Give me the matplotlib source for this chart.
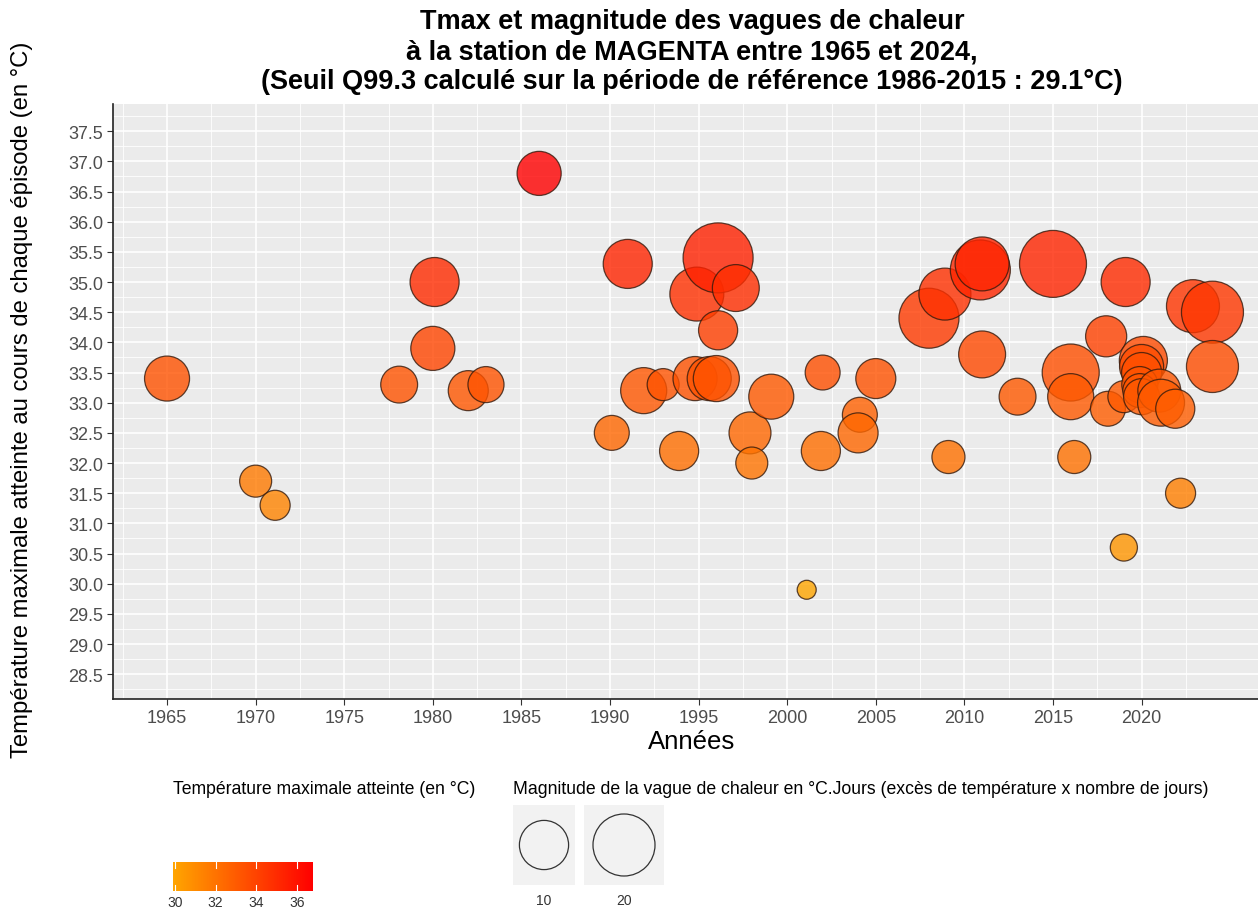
import matplotlib
matplotlib.use("Agg")
import matplotlib.pyplot as plt
import numpy as np
from matplotlib.colors import LinearSegmentedColormap, Normalize
from matplotlib.colorbar import ColorbarBase

plt.rcParams['font.family'] = ['Liberation Sans', 'DejaVu Sans']

# episodes: decimal year, Tmax reached (°C), magnitude (°C.jours)
years = [1965.0, 1970.0, 1971.1, 1978.1, 1980.1, 1980.0, 1982.0, 1983.0, 1986.0,
         1990.1, 1991.0, 1991.9, 1993.0, 1993.9, 1994.9, 1994.8, 1995.6, 1996.0,
         1996.1, 1997.1, 1996.1, 1997.9, 1998.0, 1999.1, 2001.1, 2002.0, 2001.9,
         2004.1, 2004.0, 2005.0, 2008.0, 2008.9, 2010.9, 2011.0, 2011.0, 2009.1,
         2013.0, 2015.0, 2016.0, 2016.0, 2016.2, 2018.0, 2018.1, 2019.1, 2019.0,
         2019.0, 2020.1, 2020.0, 2020.0, 2019.9, 2019.9, 2020.0, 2021.0, 2021.1,
         2021.9, 2022.2, 2022.9, 2024.0, 2024.0]
tmax = [33.4, 31.7, 31.3, 33.3, 35.0, 33.9, 33.2, 33.3, 36.8,
        32.5, 35.3, 33.2, 33.3, 32.2, 34.8, 33.4, 33.4, 33.4,
        35.4, 34.9, 34.2, 32.5, 32.0, 33.1, 29.9, 33.5, 32.2,
        32.8, 32.5, 33.4, 34.4, 34.8, 35.2, 35.3, 33.8, 32.1,
        33.1, 35.3, 33.5, 33.1, 32.1, 34.1, 32.9, 35.0, 33.1,
        30.6, 33.7, 33.6, 33.5, 33.3, 33.2, 33.1, 33.2, 33.0,
        32.9, 31.5, 34.6, 34.5, 33.6]
magnitude = [7.5, 2.1, 1.6, 3.7, 9.9, 7.0, 5.0, 3.4, 7.0,
             3.0, 9.9, 8.1, 2.1, 4.6, 13.3, 7.0, 7.0, 8.1,
             28.0, 8.6, 4.6, 5.9, 2.1, 7.5, 0.3, 3.0, 4.6,
             3.0, 5.0, 5.0, 18.2, 11.9, 18.2, 13.3, 8.6, 2.4,
             3.7, 24.8, 15.7, 8.1, 2.4, 5.5, 3.0, 9.9, 2.1,
             1.0, 9.3, 7.0, 5.0, 3.4, 2.7, 3.4, 6.4, 8.6,
             4.6, 1.6, 12.6, 20.0, 11.9]

size_breaks = [10, 20]
temp_breaks = [30, 32, 34, 36]

W, H = 1258, 912
DPI = 100


def mag_to_s(m):
    # diameter in pixels grows with sqrt of magnitude, then to points^2
    d = 19 + 9.69 * np.sqrt(np.maximum(np.asarray(m, float) - 0.3, 0))
    return (d * 72 / DPI) ** 2


cmap = LinearSegmentedColormap.from_list("oranred", ["#FFA500", "#FF0000"])
norm = Normalize(min(tmax), max(tmax))

fig = plt.figure(figsize=(W / DPI, H / DPI), dpi=DPI)
ax = fig.add_axes([113 / W, 1 - 700 / H, 1 - 113 / W, (700 - 105) / H])
ax.set_facecolor("#EBEBEB")

fc = cmap(norm(np.array(tmax)))
fc[:, 3] = 0.8
ax.scatter(years, tmax, s=mag_to_s(magnitude), facecolors=fc,
           edgecolors=(0.2, 0.1, 0.05, 0.8), linewidths=0.9, zorder=3)

ax.set_xlim(1961.95, 2026.57)
ax.set_ylim(28.09, 37.95)
ax.set_xticks(np.arange(1965, 2021, 5))
ax.set_xticks(np.arange(1962.5, 2026, 5), minor=True)
ax.set_yticks(np.arange(28.5, 37.51, 0.5))
ax.set_yticks(np.arange(28.25, 37.9, 0.5), minor=True)
ax.set_yticklabels([f"{v:.1f}" for v in np.arange(28.5, 37.51, 0.5)])
ax.grid(which="major", color="white", lw=1.2, zorder=0)
ax.grid(which="minor", color="white", lw=0.6, zorder=0)
ax.set_axisbelow(True)
ax.tick_params(which="major", length=4, width=0.8, color="#333333",
               labelsize=13, labelcolor="#4D4D4D", pad=3)
ax.tick_params(which="minor", length=0)
for side in ["top", "right"]:
    ax.spines[side].set_visible(False)
for side in ["left", "bottom"]:
    ax.spines[side].set_color("#222222")
    ax.spines[side].set_linewidth(1.2)

fig.text(692 / W, 1 - 9 / H,
         "Tmax et magnitude des vagues de chaleur\n"
         "à la station de MAGENTA entre 1965 et 2024,\n"
         "(Seuil Q99.3 calculé sur la période de référence 1986-2015 : 29.1°C)",
         ha="center", va="top", fontsize=19.5, fontweight="bold", linespacing=1.2)
fig.text(692 / W, 1 - 742 / H, "Années", ha="center", va="center", fontsize=18.5)
fig.text(22 / W, 1 - 400 / H,
         "Température maximale atteinte au cours de chaque épisode (en °C)",
         ha="center", va="center", rotation=90, fontsize=17.2)

# colour legend
fig.text(173 / W, 1 - 790 / H, "Température maximale atteinte (en °C)",
         ha="left", va="center", fontsize=12.7)
cax = fig.add_axes([173 / W, 1 - 892 / H, 140 / W, 29 / H])
cb = ColorbarBase(cax, cmap=cmap, norm=norm, orientation="horizontal")
cb.outline.set_visible(False)
cb.set_ticks(temp_breaks)
cax.tick_params(length=0, labelsize=10, pad=3, labelcolor="#333333")
for v in temp_breaks:
    cax.axvline(v, 0, 0.2, color="white", lw=0.8)
    cax.axvline(v, 0.8, 1, color="white", lw=0.8)

# size legend
fig.text(513 / W, 1 - 790 / H,
         "Magnitude de la vague de chaleur en °C.Jours "
         "(excès de température x nombre de jours)",
         ha="left", va="center", fontsize=12.7)
key_boxes = [(513, 62), (584, 80)]
for (x0, w), br in zip(key_boxes, size_breaks):
    kax = fig.add_axes([x0 / W, 1 - 886 / H, w / W, 80 / H])
    kax.set_facecolor("#F2F2F2")
    kax.set_xlim(0, 1)
    kax.set_ylim(0, 1)
    kax.scatter([0.5], [0.5], s=mag_to_s([br]), facecolors="none",
                edgecolors="#333333", linewidths=0.9)
    kax.set_xticks([])
    kax.set_yticks([])
    for sp in kax.spines.values():
        sp.set_visible(False)
    fig.text((x0 + w / 2) / W, 1 - 901 / H, str(br), ha="center", va="center",
             fontsize=10, color="#333333")

fig.savefig("out.png", dpi=DPI)
